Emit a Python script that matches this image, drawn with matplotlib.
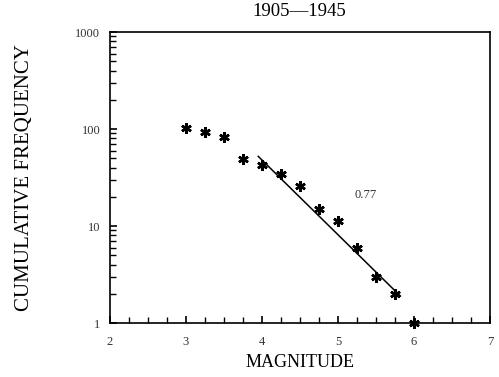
import numpy as np
import matplotlib.pyplot as plt
from matplotlib.ticker import MultipleLocator, LogLocator, NullFormatter

magnitude = [3.0, 3.25, 3.5, 3.75, 4.0, 4.25, 4.5, 4.75, 5.0, 5.25, 5.5, 5.75, 6.0]
cum_freq = [102, 93, 83, 49, 43, 34, 26, 15, 11.3, 6, 3, 2, 1]

fit_m = [3.95, 5.82]
fit_a = 4.76
fit_b = 0.77


def main():
    plt.rcParams['font.family'] = ['Liberation Serif', 'DejaVu Serif']
    fig = plt.figure(figsize=(4.99, 3.77), dpi=100)
    ax = fig.add_axes([0.2204, 0.1432, 0.7616, 0.7719])

    m = np.array(fit_m)
    ax.plot(m, 10**(fit_a - fit_b*m), color='black', lw=1.1)
    ax.plot(magnitude, cum_freq, linestyle='none', marker=(6, 2, 0),
            markersize=7.5, markeredgewidth=1.8, color='black', clip_on=False)
    ax.text(5.36, 21, "0.77", fontsize=9, ha='center', va='center', color='#333333')

    ax.set_yscale('log')
    ax.set_xlim(2, 7)
    ax.set_ylim(1, 1000)
    ax.xaxis.set_major_locator(MultipleLocator(1))
    ax.xaxis.set_minor_locator(MultipleLocator(0.25))
    ax.yaxis.set_major_locator(LogLocator(base=10))
    ax.yaxis.set_minor_locator(LogLocator(base=10, subs=np.arange(2, 10)))
    ax.yaxis.set_minor_formatter(NullFormatter())
    ax.set_yticks([1, 10, 100, 1000])
    ax.set_yticklabels(["1", "10", "100", "1000"])
    ax.tick_params(which='both', direction='in', labelsize=9, top=False, right=False,
                   labelcolor='#333333')
    ax.tick_params(which='major', length=5, width=1.2)
    ax.tick_params(which='minor', length=4, width=1.0)
    ax.tick_params(axis='x', pad=9)
    ax.tick_params(axis='y', pad=7)
    for s in ax.spines.values():
        s.set_linewidth(1.2)

    ax.set_xlabel("MAGNITUDE", fontsize=13, va='center')
    ax.xaxis.set_label_coords(0.5, -0.134)
    ax.set_ylabel("CUMULATIVE FREQUENCY", fontsize=15, va='center')
    ax.yaxis.set_label_coords(-0.226, 0.5)
    fig.text(0.6006, 1 - 12/377, "1905\u20141945", fontsize=13.5, ha='center', va='center')

    fig.savefig("out.png", dpi=100)


if __name__ == '__main__':
    main()
